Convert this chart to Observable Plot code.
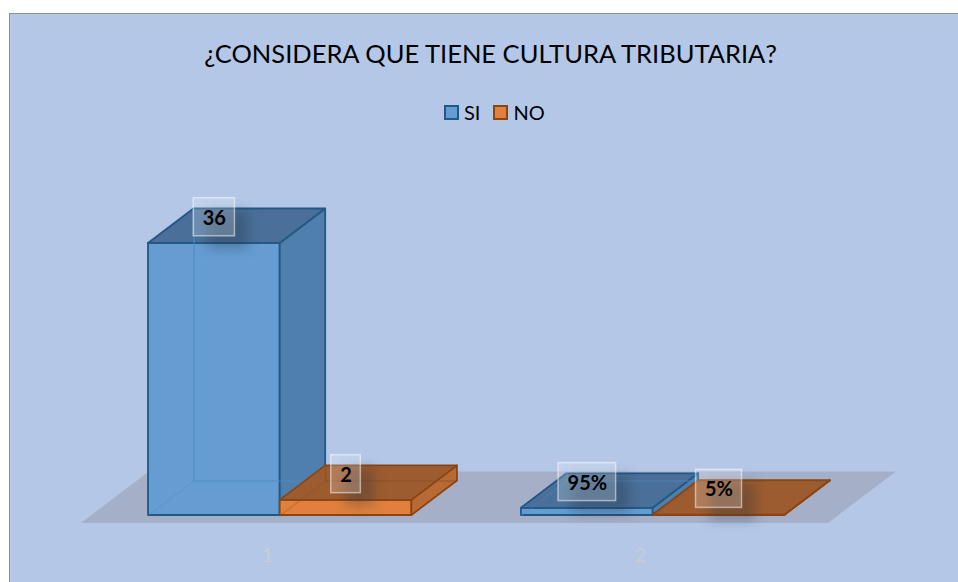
<!DOCTYPE html>
<html lang="es">
<head>
<meta charset="utf-8">
<script src="https://cdn.jsdelivr.net/npm/d3@7"></script>
<script src="https://cdn.jsdelivr.net/npm/@observablehq/plot@0.6"></script>
<style>
html,body{margin:0;padding:0;background:#fff;overflow:hidden}
#wrap{position:relative;width:958px;height:582px;overflow:hidden;font-family:Lato,sans-serif}
#frame{position:absolute;left:9px;top:13px;width:960px;height:580px;background:#b4c7e7;border:1.5px solid #8f8f8f}
#title{position:absolute;left:0;top:38px;width:981px;text-align:center;font-size:25.5px;color:#000;white-space:nowrap}
#legend{position:absolute;left:444px;top:100px;height:24px;display:flex;align-items:center;font-size:20px;color:#000}
#legend i{display:block;width:11px;height:11px;border:2px solid;margin-right:5px}
#legend span{margin-right:13px}
#chart{position:absolute;left:0;top:130px}
.shadow{filter:blur(6px)}
</style>
</head>
<body>
<div id="wrap">
  <div id="frame"></div>
  <div id="title"></div>
  <div id="legend"></div>
  <div id="chart"></div>
</div>
<script>
const chartTitle = "¿CONSIDERA QUE TIENE CULTURA TRIBUTARIA?";
const categories = ["1", "2"];
const seriesNames = ["SI", "NO"];
const siValues = [36, 0.95];
const noValues = [2, 0.05];
const siLabels = ["36", "95%"];
const noLabels = ["2", "5%"];
const seriesColors = {
  SI: {front: "#659dd3", top: "#4a7099", side: "#4f80ad", edge: "#235785", inner: "#4f88bf"},
  NO: {front: "#e0803c", top: "#9d5c30", side: "#b86a34", edge: "#8a4513", inner: "#8a4f22"}
};

document.getElementById("title").textContent = chartTitle;
document.getElementById("legend").innerHTML = seriesNames.map(s =>
  `<i style="background:${seriesColors[s].front};border-color:${seriesColors[s].edge}"></i><span>${s}</span>`).join("");

// Oblique projection in data units: one x unit is one bar width
const slot = 2.832, skewX = 0.3455, skewY = 4.566;
const floorFront = -0.232, floorBack = 1.26, floorLeft = -0.429, floorRight = 5.243;
const labelDepth = 0.76;
const pxPerX = 131.7, pxPerY = 7.556;

const ctx = document.createElement("canvas").getContext("2d");
ctx.font = "bold 20px Lato";

const bars = categories.flatMap((c, i) => seriesNames.map((s, j) => ({
  category: c, series: s,
  x0: i * slot + j,
  value: (j ? noValues : siValues)[i],
  label: (j ? noLabels : siLabels)[i]
})));

function barMarks(b) {
  const c = seriesColors[b.series];
  const {x0, value: v} = b, x1 = x0 + 1;
  const common = {stroke: c.edge, strokeWidth: 1.8, strokeLinejoin: "round"};
  const diagonal = [{x: x0, y: 0}, {x: x0 + skewX, y: skewY}];
  const inner = [
    {k: 1, x: x0 + skewX, y: skewY}, {k: 1, x: x0 + skewX, y: skewY + v},
    {k: 2, x: x0 + skewX, y: skewY}, {k: 2, x: x1 + skewX, y: skewY}
  ];
  return [
    Plot.areaY([{x: x0, y1: 0, y2: v}, {x: x1, y1: 0, y2: v}],
      {x: "x", y1: "y1", y2: "y2", fill: c.front, ...common}),
    Plot.areaY([{x: x1, y1: 0, y2: v}, {x: x1 + skewX, y1: skewY, y2: skewY + v}],
      {x: "x", y1: "y1", y2: "y2", fill: c.side, ...common}),
    Plot.areaX([{y: v, x1: x0, x2: x1}, {y: v + skewY, x1: x0 + skewX, x2: x1 + skewX}],
      {y: "y", x1: "x1", x2: "x2", fill: c.top, ...common}),
    Plot.line(diagonal, {x: "x", y: "y", stroke: c.inner, strokeWidth: 1.2, strokeOpacity: 0.35}),
    Plot.line(inner, {x: "x", y: "y", z: "k", stroke: c.inner, strokeWidth: 1.2, strokeOpacity: 0.8})
  ];
}

const labelRows = bars.map(b => {
  const half = (ctx.measureText(b.label).width / 2 + 9) / pxPerX;
  const cx = b.x0 + 0.5, cy = b.value + labelDepth * skewY;
  return {...b, cx, cy, xa: cx - half, xb: cx + half, ya: cy - 19 / pxPerY, yb: cy + 19 / pxPerY};
});

const boxChannels = {x1: "xa", x2: "xb", y1: "ya", y2: "yb"};
const chart = Plot.plot({
  width: 958, height: 452,
  margin: 0,
  x: {domain: [-148 / pxPerX, 810 / pxPerX], range: [0, 958], axis: null},
  y: {domain: [-67 / pxPerY, 385 / pxPerY], range: [452, 0], axis: null},
  style: {background: "transparent", fontFamily: "Lato, sans-serif", overflow: "visible"},
  marks: [
    Plot.areaX([
      {y: floorFront * skewY, x1: floorLeft + floorFront * skewX, x2: floorRight + floorFront * skewX},
      {y: floorBack * skewY, x1: floorLeft + floorBack * skewX, x2: floorRight + floorBack * skewX}
    ], {y: "y", x1: "x1", x2: "x2", fill: "#a5afc8"}),
    ...bars.flatMap(barMarks),
    Plot.rect(labelRows, {...boxChannels, fill: "#1b2a3a", fillOpacity: 0.28, dx: 14, dy: 13, className: "shadow"}),
    Plot.rect(labelRows, {...boxChannels, fill: "#fff", fillOpacity: 0.2, stroke: "#fff", strokeOpacity: 0.5, strokeWidth: 1.5}),
    Plot.text(labelRows, {x: "cx", y: "cy", text: "label", dy: 1, fontSize: 20, fontWeight: 700, fill: "#000"}),
    Plot.text(categories.map((c, i) => ({c, x: i * slot + 1 + floorFront * skewX, y: floorFront * skewY})), {
      x: "x", y: "y", text: "c", dx: -2, dy: 32, fontSize: 20, fill: "#cacdd4"
    })
  ]
});
document.getElementById("chart").appendChild(chart);
</script>
</body>
</html>
